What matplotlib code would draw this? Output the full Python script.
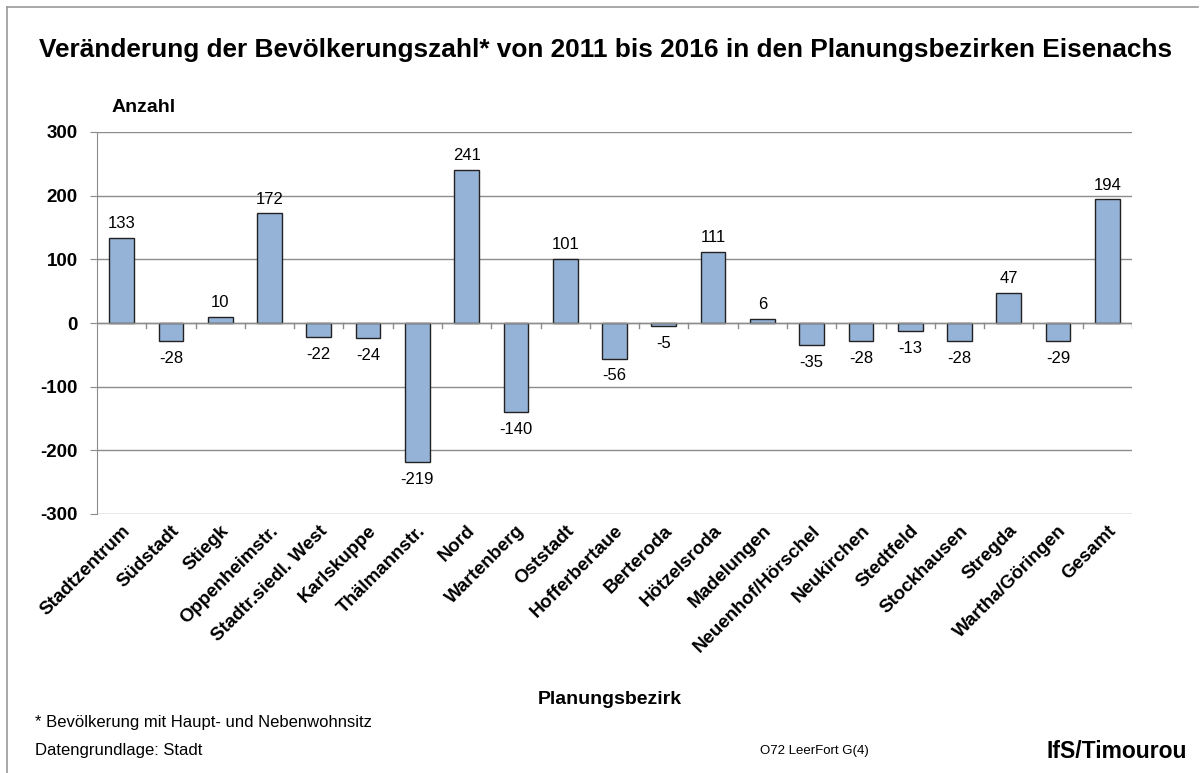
import matplotlib
matplotlib.use('Agg')
import matplotlib.pyplot as plt
from matplotlib.lines import Line2D

plt.rcParams['font.family'] = ['Liberation Sans', 'DejaVu Sans']

# Planungsbezirke und Veränderung 2011-2016
bezirke = ['Stadtzentrum', 'Südstadt', 'Stiegk', 'Oppenheimstr.', 'Stadtr.siedl. West',
           'Karlskuppe', 'Thälmannstr.', 'Nord', 'Wartenberg', 'Oststadt',
           'Hofferbertaue', 'Berteroda', 'Hötzelsroda', 'Madelungen', 'Neuenhof/Hörschel',
           'Neukirchen', 'Stedtfeld', 'Stockhausen', 'Stregda', 'Wartha/Göringen', 'Gesamt']
veraenderung = [133, -28, 10, 172, -22, -24, -219, 241, -140, 101,
                -56, -5, 111, 6, -35, -28, -13, -28, 47, -29, 194]
y_ticks = [-300, -200, -100, 0, 100, 200, 300]

W, H = 1203, 773
fig = plt.figure(figsize=(W / 100, H / 100), dpi=100)

# grauer Rahmen (oben und links)
fig.lines.append(Line2D([7 / W, 1198 / W], [1 - 7 / H, 1 - 7 / H], transform=fig.transFigure,
                        color='#999999', linewidth=1.2))
fig.lines.append(Line2D([7 / W, 7 / W], [1 - 7 / H, 0], transform=fig.transFigure,
                        color='#999999', linewidth=1.2))

ax = fig.add_axes([97 / W, 1 - 514 / H, 1035 / W, 382 / H])

x = range(len(bezirke))
ax.bar(x, veraenderung, width=0.5, color='#95B3D7', edgecolor='#222222', linewidth=1, zorder=3)

# Werte an den Balken
for i, v in enumerate(veraenderung):
    if v >= 0:
        ax.annotate(str(v), (i, v), xytext=(0, 5), textcoords='offset points',
                    ha='center', va='bottom', fontsize=12)
    else:
        ax.annotate(str(v), (i, v), xytext=(0, -7), textcoords='offset points',
                    ha='center', va='top', fontsize=12)

ax.set_xlim(-0.5, len(bezirke) - 0.5)
ax.set_ylim(-300, 300)
ax.set_yticks(y_ticks)
ax.set_yticklabels([str(t) for t in y_ticks], fontsize=13.5, fontweight='bold')
ax.grid(axis='y', color='#8c8c8c', linewidth=1, zorder=0)
ax.tick_params(axis='y', length=5, color='#8c8c8c', pad=9)

for s in ['top', 'right', 'bottom']:
    ax.spines[s].set_visible(False)
ax.spines['left'].set_color('#8c8c8c')

# Nulllinie mit Teilstrichen zwischen den Kategorien
ax.axhline(0, color='#8c8c8c', linewidth=1, zorder=4)
for b in [i + 0.5 for i in range(len(bezirke))]:
    ax.plot([b, b], [0, -8], color='#8c8c8c', linewidth=1, zorder=4)

ax.set_xticks(list(x))
ax.set_xticklabels(bezirke, rotation=45, ha='right', rotation_mode='anchor',
                   fontsize=13.5, fontweight='bold')
ax.tick_params(axis='x', length=0, pad=6)

fig.text(606 / W, 1 - 50 / H, 'Veränderung der Bevölkerungszahl* von 2011 bis 2016 in den Planungsbezirken Eisenachs',
         ha='center', va='center', fontsize=18.9, fontweight='bold')
fig.text(112 / W, 1 - 107 / H, 'Anzahl', ha='left', va='center', fontsize=14, fontweight='bold')
fig.text(610 / W, 1 - 700 / H, 'Planungsbezirk', ha='center', va='center', fontsize=14, fontweight='bold')
fig.text(35 / W, 1 - 723 / H, '* Bevölkerung mit Haupt- und Nebenwohnsitz', ha='left', va='center', fontsize=12)
fig.text(35 / W, 1 - 751 / H, 'Datengrundlage: Stadt', ha='left', va='center', fontsize=12)
fig.text(814 / W, 1 - 751 / H, 'O72 LeerFort G(4)', ha='center', va='center', fontsize=9.5)
fig.text(1187 / W, 1 - 752 / H, 'IfS/Timourou', ha='right', va='center', fontsize=16.5, fontweight='bold')

plt.savefig('out.png', dpi=100)
